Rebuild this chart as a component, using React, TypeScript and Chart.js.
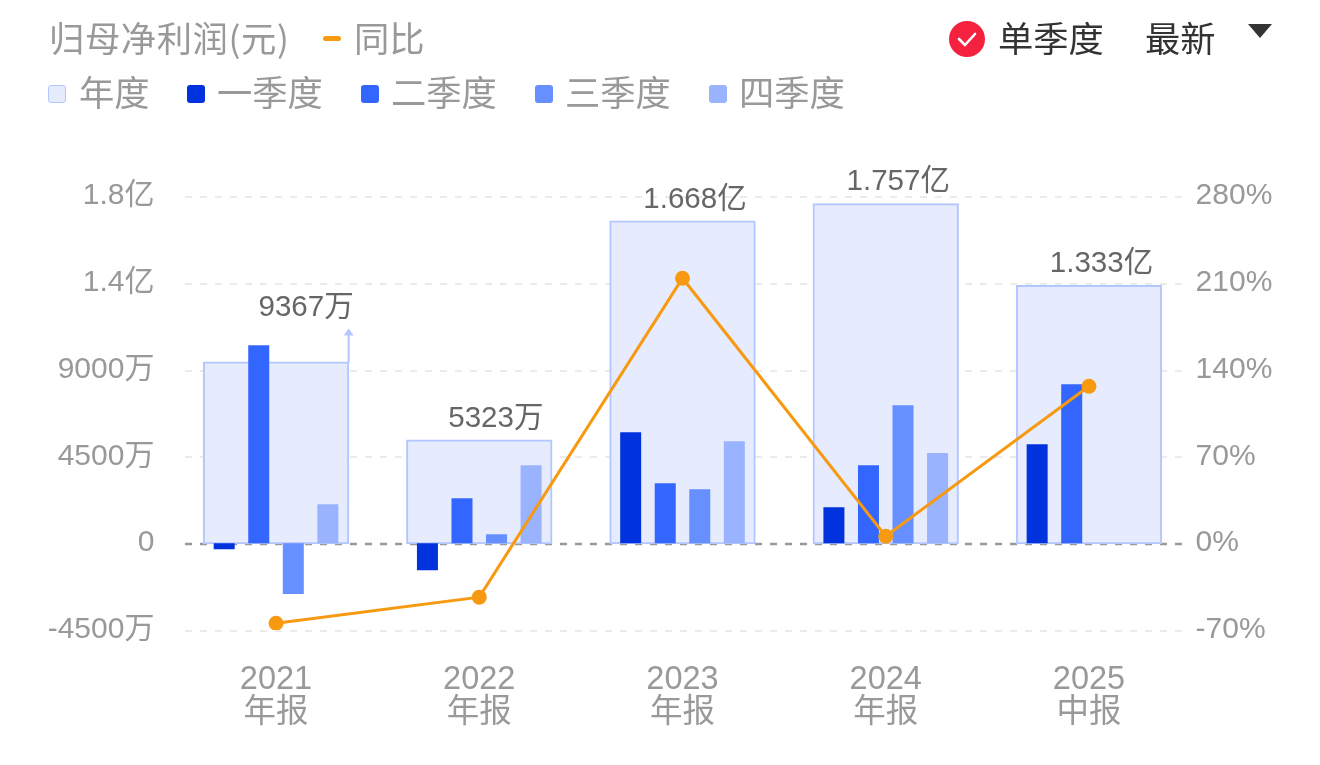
import React, { useEffect, useRef } from "react";
import { Chart, registerables } from "chart.js";

Chart.register(...registerables);

const FONT = '"Liberation Sans", "Noto Sans CJK SC", sans-serif';
const CJK = '"Noto Sans CJK SC", "Liberation Sans", sans-serif';

const periods = ["2021", "2022", "2023", "2024", "2025"];
const reportTypes = ["年报", "年报", "年报", "年报", "中报"];
const annualValues = [93.67e6, 53.23e6, 166.8e6, 175.7e6, 133.3e6];
const annualLabels = ["9367万", "5323万", "1.668亿", "1.757亿", "1.333亿"];
const q1Values = [-3.1e6, -14e6, 57.5e6, 18.7e6, 51.3e6];
const q2Values = [102.6e6, 23.3e6, 31.1e6, 40.4e6, 82.4e6];
const q3Values = [-26.4e6, 4.7e6, 28e6, 71.5e6, null];
const q4Values = [20.2e6, 40.4e6, 52.9e6, 46.7e6, null];
const yoyValues = [-64.5, -43.5, 213.7, 5.6, 126.6];
const leftTickLabels: Record<string, string> = {
  "-45000000": "-4500万",
  "0": "0",
  "45000000": "4500万",
  "90000000": "9000万",
  "135000000": "1.4亿",
  "180000000": "1.8亿",
};
const arrowIndex = 0;

const COLORS = {
  annualFill: "#E6ECFE",
  annualBorder: "#B3C6FF",
  q1: "#0033DD",
  q2: "#3366FF",
  q3: "#668FFF",
  q4: "#99B3FF",
  line: "#F79A12",
  axisText: "#999999",
  labelText: "#666666",
};

const overlayPlugin = {
  id: "overlay",
  beforeDatasetsDraw(chart: any) {
    const { ctx } = chart;
    const y = chart.scales.y;
    ctx.save();
    y.ticks.forEach((t: any) => {
      const py = Math.round(y.getPixelForValue(t.value)) + 1;
      ctx.beginPath();
      ctx.setLineDash([7, 8]);
      ctx.lineWidth = t.value === 0 ? 2.6 : 2;
      ctx.strokeStyle = t.value === 0 ? "#999999" : "#EBEBEB";
      ctx.moveTo(185, py);
      ctx.lineTo(1182, py);
      ctx.stroke();
    });
    ctx.restore();
  },
  afterDatasetsDraw(chart: any) {
    const { ctx } = chart;
    const bars = chart.getDatasetMeta(0).data;
    ctx.save();
    ctx.font = `29.5px ${FONT}`;
    ctx.fillStyle = COLORS.labelText;
    ctx.textAlign = "right";
    ctx.textBaseline = "middle";
    bars.forEach((bar: any, i: number) => {
      const right = bar.x + bar.width / 2 + 0.5;
      if (i === arrowIndex) {
        ctx.fillText(annualLabels[i], right + 5, bar.y - 55);
        ctx.strokeStyle = COLORS.annualBorder;
        ctx.lineWidth = 2;
        ctx.beginPath();
        ctx.moveTo(right, bar.y);
        ctx.lineTo(right, bar.y - 28);
        ctx.stroke();
        ctx.fillStyle = COLORS.annualBorder;
        ctx.beginPath();
        ctx.moveTo(right, bar.y - 34);
        ctx.lineTo(right - 5, bar.y - 27);
        ctx.lineTo(right + 5, bar.y - 27);
        ctx.closePath();
        ctx.fill();
        ctx.fillStyle = COLORS.labelText;
      } else {
        ctx.fillText(annualLabels[i], right - 8.5, bar.y - 22);
      }
    });
    ctx.restore();
  },
};

const legendText: React.CSSProperties = {
  position: "absolute",
  fontFamily: CJK,
  fontSize: 35.3,
  lineHeight: "44px",
  color: "#999999",
  whiteSpace: "nowrap",
};

function Label({ x, y, text, color, spacing }: { x: number; y: number; text: string; color?: string; spacing?: number }) {
  return (
    <div style={{ ...legendText, left: x, top: y - 24, color: color ?? "#999999", letterSpacing: spacing ?? 0 }}>{text}</div>
  );
}

function Swatch({ x, color, border }: { x: number; color: string; border?: string }) {
  return (
    <div
      style={{
        position: "absolute",
        left: x,
        top: 85,
        width: 18,
        height: 18,
        boxSizing: "border-box",
        borderRadius: 3,
        background: color,
        border: border ? `1.5px solid ${border}` : "none",
      }}
    />
  );
}

export default function App() {
  const ref = useRef<HTMLCanvasElement>(null);

  useEffect(() => {
    document.body.style.margin = "0";
    document.body.style.background = "#fff";
    const labels = periods.map((p, i) => [p, reportTypes[i]]);
    const quarter = (label: string, data: (number | null)[], color: string) => ({
      type: "bar" as const,
      label,
      data,
      yAxisID: "y",
      backgroundColor: color,
      borderWidth: 0,
      categoryPercentage: 0.68,
      barPercentage: 0.608,
      order: 2,
    });
    const chart = new Chart(ref.current!, {
      type: "bar",
      data: {
        labels,
        datasets: [
          {
            type: "bar",
            label: "年度",
            data: annualValues,
            yAxisID: "y",
            grouped: false,
            backgroundColor: COLORS.annualFill,
            borderColor: COLORS.annualBorder,
            borderWidth: 2,
            borderSkipped: false,
            inflateAmount: 1,
            categoryPercentage: 0.71,
            barPercentage: 1,
            order: 3,
          },
          quarter("一季度", q1Values, COLORS.q1),
          quarter("二季度", q2Values, COLORS.q2),
          quarter("三季度", q3Values, COLORS.q3),
          quarter("四季度", q4Values, COLORS.q4),
          {
            type: "line",
            label: "同比",
            data: yoyValues,
            yAxisID: "y1",
            borderColor: COLORS.line,
            backgroundColor: COLORS.line,
            borderWidth: 3,
            pointRadius: 7.5,
            pointHoverRadius: 7.5,
            pointBorderWidth: 0,
            tension: 0,
            order: 1,
          },
        ] as any,
      },
      options: {
        animation: false,
        responsive: false,
        devicePixelRatio: 1,
        layout: { padding: { top: 196, bottom: 0, left: 0, right: 0 } },
        plugins: { legend: { display: false }, tooltip: { enabled: false } },
        scales: {
          x: {
            type: "category",
            offset: true,
            position: "bottom",
            border: { display: false },
            grid: { display: false, drawTicks: false },
            ticks: {
              color: COLORS.axisText,
              font: { family: FONT, size: 32.5, lineHeight: 1.02 },
              padding: 33.5,
              maxRotation: 0,
              autoSkip: false,
            },
            afterFit: (s: any) => {
              s.height = 135;
            },
          },
          y: {
            type: "linear",
            position: "left",
            min: -45e6,
            max: 180e6,
            border: { display: false },
            grid: { display: false, drawTicks: false },
            ticks: {
              stepSize: 45e6,
              color: COLORS.axisText,
              font: { family: FONT, size: 30 },
              padding: 20,
              callback: (v: any) => leftTickLabels[String(v)] ?? "",
            },
            afterFit: (s: any) => {
              s.width = 174.4;
            },
          },
          y1: {
            type: "linear",
            position: "right",
            min: -70,
            max: 280,
            border: { display: false },
            grid: { display: false, drawTicks: false },
            ticks: {
              stepSize: 70,
              color: COLORS.axisText,
              font: { family: FONT, size: 30 },
              padding: 5,
              callback: (v: any) => `${v}%`,
            },
            afterFit: (s: any) => {
              s.width = 129.4;
            },
          },
        },
      } as any,
      plugins: [overlayPlugin as any],
    });
    return () => chart.destroy();
  }, []);

  return (
    <div style={{ position: "relative", width: 1320, height: 765, overflow: "hidden", background: "#fff" }}>
      <canvas ref={ref} width={1320} height={765} style={{ position: "absolute", left: 0, top: 0, display: "block" }} />
      <Label x={49} y={39} text="归母净利润(元)" spacing={0.6} />
      <div style={{ position: "absolute", left: 323, top: 36, width: 18, height: 5, borderRadius: 3, background: COLORS.line }} />
      <Label x={354} y={39} text="同比" />
      <Swatch x={48} color={COLORS.annualFill} border={COLORS.annualBorder} />
      <Label x={79} y={93} text="年度" />
      <Swatch x={187} color={COLORS.q1} />
      <Label x={217} y={93} text="一季度" />
      <Swatch x={361} color={COLORS.q2} />
      <Label x={391} y={93} text="二季度" />
      <Swatch x={535} color={COLORS.q3} />
      <Label x={565} y={93} text="三季度" />
      <Swatch x={709} color={COLORS.q4} />
      <Label x={739} y={93} text="四季度" />
      <svg style={{ position: "absolute", left: 949, top: 21 }} width={36} height={36}>
        <circle cx={18} cy={18} r={18} fill="#F5223F" />
        <path d="M10 18 L16 24 L26 13" fill="none" stroke="#fff" strokeWidth={2.6} strokeLinecap="round" strokeLinejoin="round" />
      </svg>
      <Label x={998} y={39} text="单季度" color="#333333" />
      <Label x={1145} y={39} text="最新" color="#333333" />
      <svg style={{ position: "absolute", left: 1248, top: 24 }} width={24} height={14}>
        <path d="M0 0 L24 0 L12 14 Z" fill="#333333" />
      </svg>
    </div>
  );
}
